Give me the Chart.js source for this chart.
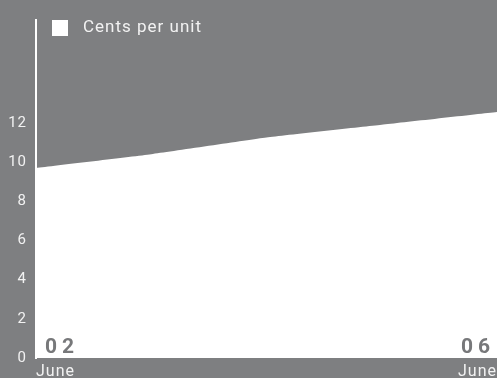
<!DOCTYPE html>
<html>
<head>
<meta charset="utf-8">
<script src="https://cdn.jsdelivr.net/npm/chart.js"></script>
<style>
  html, body { margin: 0; padding: 0; background: #7e7f81; }
  #wrap { width: 497px; height: 378px; position: relative; }
</style>
</head>
<body>
<div id="wrap"><canvas id="c"></canvas></div>
<script>
// data
const days = ['02', '03', '04', '05', '06'];
const months = ['June', 'June', 'June', 'June', 'June'];
const centsPerUnit = [9.7, 10.4, 11.25, 11.9, 12.55];
const yTicks = [0, 2, 4, 6, 8, 10, 12];
const seriesName = 'Cents per unit';

const FONT = 'Roboto, "DejaVu Sans", sans-serif';

// 文字間隔を少し広げる
const spacing = {
  id: 'spacing',
  beforeUpdate(chart) { chart.ctx.letterSpacing = '1px'; },
  beforeDraw(chart) { chart.ctx.letterSpacing = '1px'; },
};

// 凡例（チャート内の左上）
const insideLegend = {
  id: 'insideLegend',
  afterDatasetsDraw(chart) {
    const ctx = chart.ctx;
    const area = chart.chartArea;
    const ds = chart.data.datasets[0];
    ctx.save();
    ctx.fillStyle = ds.backgroundColor;
    ctx.fillRect(area.left + 16, area.top, 16, 16);
    ctx.font = '17px ' + FONT;
    ctx.fillStyle = '#f2f2f2';
    ctx.textAlign = 'left';
    ctx.textBaseline = 'middle';
    ctx.fillText(ds.label, area.left + 47, area.top + 8);
    ctx.restore();
  },
};

// 日付の大きい数字をチャート内に描く
const dayLabels = {
  id: 'dayLabels',
  afterDatasetsDraw(chart) {
    const ctx = chart.ctx;
    const x = chart.scales.x;
    const bottom = chart.chartArea.bottom;
    ctx.save();
    ctx.font = 'bold 21px ' + FONT;
    ctx.fillStyle = '#77787a';
    ctx.textBaseline = 'alphabetic';
    ctx.letterSpacing = '5px';
    const last = days.length - 1;
    ctx.textAlign = 'left';
    ctx.fillText(days[0], x.getPixelForValue(0) + 9, bottom - 5);
    ctx.textAlign = 'right';
    ctx.fillText(days[last], x.getPixelForValue(last) - 2, bottom - 5);
    ctx.restore();
  },
};

new Chart(document.getElementById('c'), {
  type: 'line',
  data: {
    labels: months,
    datasets: [
      {
        label: seriesName,
        data: centsPerUnit,
        fill: 'origin',
        backgroundColor: '#ffffff',
        borderColor: '#ffffff',
        borderWidth: 0,
        pointRadius: 0,
        tension: 0.15,
      },
    ],
  },
  options: {
    responsive: true,
    maintainAspectRatio: false,
    animation: false,
    layout: { padding: { top: 20, left: 0, right: 0, bottom: 0 } },
    plugins: {
      legend: { display: false },
      tooltip: { enabled: false },
    },
    scales: {
      x: {
        offset: false,
        grid: { display: false, drawTicks: false },
        border: { display: false },
        afterFit: function (scale) {
          scale.height = 20;
          scale.paddingLeft = 0;
          scale.paddingRight = 0;
        },
        ticks: {
          color: '#f2f2f2',
          font: { family: FONT, size: 16 },
          padding: 4,
          align: 'inner',
          maxRotation: 0,
          autoSkip: false,
          callback: function (value, index) {
            return index === 0 || index === months.length - 1 ? months[index] : '';
          },
        },
      },
      y: {
        min: 0,
        max: 17.25,
        grid: { display: false, drawTicks: false },
        border: { display: true, color: '#ffffff', width: 2 },
        afterBuildTicks: function (scale) {
          scale.ticks = yTicks.map(v => ({ value: v }));
        },
        afterFit: function (scale) {
          scale.width = 36;
        },
        ticks: {
          color: '#f2f2f2',
          font: { family: FONT, size: 15 },
          padding: 9,
        },
      },
    },
  },
  plugins: [spacing, insideLegend, dayLabels],
});
</script>
</body>
</html>
